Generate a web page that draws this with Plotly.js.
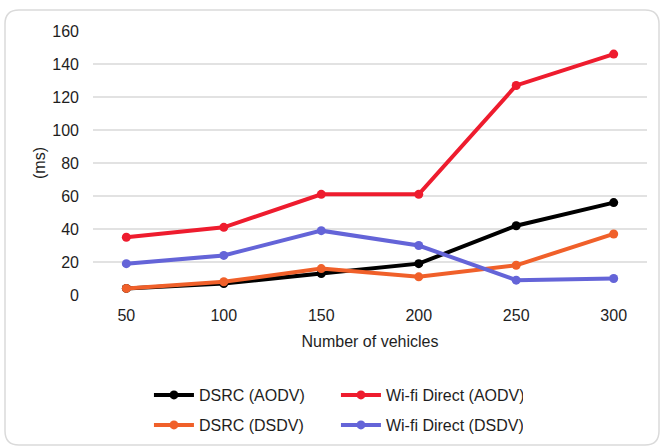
<!DOCTYPE html>
<html>
<head>
<meta charset="utf-8">
<script src="https://cdn.plot.ly/plotly-3.0.1.min.js"></script>
<style>
  html, body { margin: 0; padding: 0; background: #ffffff; }
  #chart { width: 662px; height: 448px; }
</style>
</head>
<body>
<div id="chart"></div>
<script>
// Delay (ms) by number of vehicles for each protocol / technology
const vehicles = ['50', '100', '150', '200', '250', '300'];
const dsrcAodv = [4, 7, 13, 19, 42, 56];
const wifiAodv = [35, 41, 61, 61, 127, 146];
const dsrcDsdv = [4, 8, 16, 11, 18, 37];
const wifiDsdv = [19, 24, 39, 30, 9, 10];

const FONT = '"Liberation Sans", Arial, sans-serif';
const TXT = '#1e1e1e';

function series(name, y, color, legendId) {
  return {
    type: 'scatter',
    mode: 'lines+markers',
    name: name,
    x: vehicles,
    y: y,
    legend: legendId,
    line: { color: color, width: 4 },
    marker: { color: color, size: 9, symbol: 'circle' }
  };
}

const traces = [
  series('DSRC (AODV)', dsrcAodv, '#000000', 'legend'),
  series('Wi-fi Direct (AODV)', wifiAodv, '#ee1c2e', 'legend'),
  series('DSRC (DSDV)', dsrcDsdv, '#f0602a', 'legend2'),
  series('Wi-fi Direct (DSDV)', wifiDsdv, '#6464d8', 'legend2')
];

const legendBase = {
  orientation: 'h',
  xref: 'container', yref: 'container',
  x: 0.225, xanchor: 'left',
  yanchor: 'middle',
  entrywidth: 132, entrywidthmode: 'pixels',
  itemwidth: 40,
  font: { family: FONT, size: 16, color: TXT },
  bgcolor: 'rgba(0,0,0,0)',
  traceorder: 'normal'
};

// plot area in pixels
const L = 93, R = 15, T = 31, B = 153;
const W = 662 - L - R, H = 448 - T - B;

const layout = {
  width: 662, height: 448,
  paper_bgcolor: '#ffffff',
  plot_bgcolor: '#ffffff',
  margin: { l: L, r: R, t: T, b: B },
  font: { family: FONT, size: 16, color: TXT },
  xaxis: {
    type: 'category',
    showgrid: false, zeroline: false, showline: false,
    ticks: '', tickfont: { family: FONT, size: 16, color: TXT },
    ticklabelstandoff: 9,
    title: { text: 'Number of vehicles', font: { family: FONT, size: 16, color: TXT }, standoff: 12 }
  },
  yaxis: {
    range: [0, 160], dtick: 20,
    showgrid: true, gridcolor: '#e2e2e2', gridwidth: 1.5,
    zeroline: false, showline: false, ticks: '',
    tickfont: { family: FONT, size: 16, color: TXT },
    ticklabelstandoff: 13,
    title: { text: '(ms)', font: { family: FONT, size: 16, color: TXT }, standoff: 2 }
  },
  legend: Object.assign({}, legendBase, { y: 1 - 395 / 448 }),
  legend2: Object.assign({}, legendBase, { y: 1 - 425 / 448 }),
  showlegend: true,
  shapes: [{
    type: 'path', xref: 'paper', yref: 'paper', layer: 'below',
    path: (function () {
      // rounded frame around the whole figure, in paper coordinates
      const px = v => (v - L) / W;
      const py = v => (448 - B - v) / H;
      const x0 = 5, x1 = 659, y0 = 10, y1 = 445, r = 14;
      return 'M ' + px(x0 + r) + ' ' + py(y0) +
        ' L ' + px(x1 - r) + ' ' + py(y0) +
        ' Q ' + px(x1) + ' ' + py(y0) + ' ' + px(x1) + ' ' + py(y0 + r) +
        ' L ' + px(x1) + ' ' + py(y1 - r) +
        ' Q ' + px(x1) + ' ' + py(y1) + ' ' + px(x1 - r) + ' ' + py(y1) +
        ' L ' + px(x0 + r) + ' ' + py(y1) +
        ' Q ' + px(x0) + ' ' + py(y1) + ' ' + px(x0) + ' ' + py(y1 - r) +
        ' L ' + px(x0) + ' ' + py(y0 + r) +
        ' Q ' + px(x0) + ' ' + py(y0) + ' ' + px(x0 + r) + ' ' + py(y0) + ' Z';
    })(),
    line: { color: '#dadada', width: 1.5 },
    fillcolor: 'rgba(0,0,0,0)'
  }]
};

Plotly.newPlot('chart', traces, layout, { displayModeBar: false, staticPlot: true });
</script>
</body>
</html>
